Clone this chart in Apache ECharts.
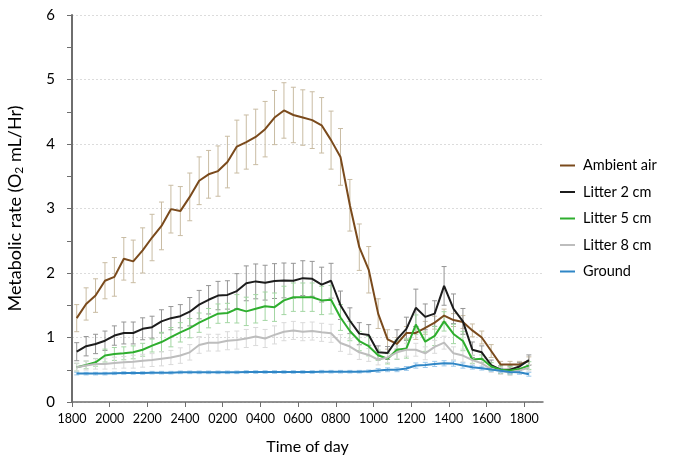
<!DOCTYPE html>
<html>
<head>
<meta charset="utf-8">
<script src="https://cdn.jsdelivr.net/npm/echarts@6/dist/echarts.min.js"></script>
<style>
html,body{margin:0;padding:0;background:#fff;}
#chart{width:676px;height:457px;}
</style>
</head>
<body>
<div id="chart"></div>
<script>
// Hours after 18:00 for each sample (every 30 min)
const timesHrs = [0.25,0.75,1.25,1.75,2.25,2.75,3.25,3.75,4.25,4.75,5.25,5.75,6.25,6.75,7.25,7.75,8.25,8.75,9.25,9.75,10.25,10.75,11.25,11.75,12.25,12.75,13.25,13.75,14.25,14.75,15.25,15.75,16.25,16.75,17.25,17.75,18.25,18.75,19.25,19.75,20.25,20.75,21.25,21.75,22.25,22.75,23.25,23.75,24.25];
const tickHrs = [0,2,4,6,8,10,12,14,16,18,20,22,24];
const tickLabels = ['1800','2000','2200','2400','0200','0400','0600','0800','1000','1200','1400','1600','1800'];

const seriesNames = ['Ambient air','Litter 2 cm','Litter 5 cm','Litter 8 cm','Ground'];

const ambientAir = [1.30,1.52,1.65,1.88,1.94,2.22,2.18,2.35,2.55,2.73,2.99,2.96,3.18,3.43,3.53,3.58,3.72,3.96,4.03,4.11,4.23,4.41,4.52,4.45,4.41,4.37,4.29,4.06,3.80,3.05,2.40,2.05,1.37,0.97,0.90,1.07,1.07,1.15,1.23,1.34,1.27,1.24,1.11,1.00,0.79,0.58,0.58,0.58,0.64];
const ambientAirErr = [0.21,0.25,0.26,0.28,0.30,0.33,0.33,0.35,0.36,0.37,0.37,0.38,0.37,0.37,0.37,0.39,0.40,0.41,0.42,0.43,0.43,0.42,0.43,0.43,0.43,0.44,0.43,0.45,0.44,0.40,0.36,0.36,0.23,0.15,0.10,0.10,0.10,0.10,0.10,0.10,0.10,0.10,0.10,0.10,0.10,0.05,0.05,0.05,0.06];

const litter2 = [0.78,0.865,0.90,0.95,1.03,1.07,1.07,1.135,1.16,1.25,1.30,1.33,1.40,1.51,1.585,1.65,1.66,1.72,1.84,1.87,1.85,1.875,1.885,1.88,1.92,1.91,1.82,1.88,1.50,1.26,1.06,1.04,0.77,0.76,0.97,1.135,1.46,1.32,1.37,1.80,1.445,1.25,0.81,0.77,0.57,0.50,0.50,0.55,0.65];
const litter2Err = [0.14,0.15,0.15,0.15,0.15,0.17,0.17,0.17,0.17,0.18,0.18,0.18,0.22,0.22,0.22,0.22,0.22,0.27,0.27,0.27,0.27,0.27,0.27,0.27,0.27,0.27,0.27,0.27,0.22,0.20,0.17,0.16,0.10,0.10,0.15,0.18,0.29,0.20,0.20,0.30,0.23,0.20,0.12,0.10,0.08,0.06,0.06,0.06,0.08];

const litter5 = [0.54,0.575,0.615,0.72,0.745,0.755,0.77,0.81,0.875,0.93,1.005,1.08,1.145,1.23,1.30,1.37,1.38,1.445,1.405,1.445,1.485,1.47,1.575,1.625,1.625,1.625,1.575,1.585,1.31,1.10,0.945,0.865,0.725,0.67,0.81,0.83,1.20,0.935,1.025,1.25,1.055,0.945,0.66,0.67,0.55,0.50,0.49,0.51,0.565];
const litter5Err = [0.06,0.06,0.06,0.10,0.10,0.10,0.10,0.10,0.10,0.15,0.15,0.15,0.15,0.15,0.15,0.15,0.15,0.22,0.22,0.22,0.22,0.22,0.22,0.22,0.22,0.22,0.22,0.22,0.20,0.15,0.15,0.15,0.08,0.08,0.15,0.15,0.15,0.15,0.15,0.15,0.15,0.15,0.06,0.06,0.06,0.06,0.06,0.06,0.06];

const litter8 = [0.54,0.565,0.59,0.59,0.605,0.615,0.625,0.64,0.65,0.67,0.69,0.72,0.77,0.885,0.92,0.92,0.95,0.96,0.985,1.015,0.985,1.04,1.09,1.11,1.09,1.10,1.08,1.065,0.915,0.86,0.77,0.73,0.655,0.69,0.77,0.81,0.81,0.755,0.855,0.92,0.755,0.72,0.65,0.60,0.51,0.48,0.46,0.49,0.53];
const litter8Err = [0.06,0.07,0.08,0.08,0.09,0.09,0.10,0.10,0.10,0.11,0.11,0.12,0.12,0.13,0.13,0.13,0.14,0.14,0.14,0.14,0.14,0.14,0.14,0.14,0.14,0.14,0.14,0.14,0.13,0.12,0.11,0.10,0.08,0.08,0.10,0.10,0.10,0.10,0.10,0.10,0.10,0.10,0.08,0.07,0.05,0.05,0.05,0.05,0.05];

const ground = [0.44,0.44,0.44,0.44,0.445,0.45,0.45,0.45,0.455,0.455,0.455,0.46,0.46,0.46,0.46,0.46,0.46,0.46,0.465,0.465,0.465,0.465,0.465,0.465,0.465,0.465,0.47,0.47,0.47,0.47,0.47,0.475,0.49,0.50,0.50,0.52,0.565,0.575,0.59,0.60,0.595,0.565,0.54,0.525,0.505,0.485,0.465,0.46,0.43];
const groundErr = [0.02,0.02,0.02,0.02,0.02,0.02,0.02,0.02,0.02,0.02,0.02,0.02,0.02,0.02,0.02,0.02,0.02,0.02,0.02,0.02,0.02,0.02,0.02,0.02,0.02,0.02,0.02,0.02,0.02,0.02,0.02,0.02,0.03,0.03,0.03,0.03,0.04,0.04,0.04,0.04,0.04,0.04,0.03,0.03,0.03,0.03,0.03,0.03,0.03];

const lineColors = ['#7a4a1c','#1c1c1c','#2eae2e','#bdbdbd','#2f86c6'];
const barColors = ['#c9bca3','#959595','#a3d6a3','#dadada','#9cc8ea'];
const means = [ambientAir, litter2, litter5, litter8, ground];
const errs = [ambientAirErr, litter2Err, litter5Err, litter8Err, groundErr];

const FONT = 'Lato, "Liberation Sans", sans-serif';

function errRender(color){
  return function(params, api){
    const lo = api.coord([api.value(0), api.value(1)]);
    const hi = api.coord([api.value(0), api.value(2)]);
    const w = 2.5;
    const st = {stroke: color, lineWidth: 1};
    return {type:'group', children:[
      {type:'line', shape:{x1:lo[0],y1:lo[1],x2:hi[0],y2:hi[1]}, style:st},
      {type:'line', shape:{x1:lo[0]-w,y1:lo[1],x2:lo[0]+w,y2:lo[1]}, style:st},
      {type:'line', shape:{x1:hi[0]-w,y1:hi[1],x2:hi[0]+w,y2:hi[1]}, style:st}
    ]};
  };
}

const series = [];
seriesNames.forEach((name, k) => {
  series.push({
    name: name + ' SE',
    type: 'custom',
    renderItem: errRender(barColors[k]),
    data: timesHrs.map((t, i) => [t, means[k][i] - errs[k][i], means[k][i] + errs[k][i]]),
    z: 1,
    silent: true,
    encode: {x: 0, y: [1, 2]}
  });
});
seriesNames.forEach((name, k) => {
  series.push({
    name: name,
    type: 'line',
    data: timesHrs.map((t, i) => [t, means[k][i]]),
    symbol: 'none',
    color: lineColors[k],
    lineStyle: {width: 2, color: lineColors[k]},
    z: 3 + k
  });
});

const chart = echarts.init(document.getElementById('chart'), null, {renderer: 'canvas'});
chart.setOption({
  animation: false,
  backgroundColor: '#fff',
  textStyle: {fontFamily: FONT},
  grid: {left: 72, right: 133, top: 15, bottom: 55, containLabel: false, outerBoundsMode: 'none'},
  legend: {
    data: seriesNames,
    orient: 'vertical',
    left: 555,
    top: 153,
    icon: 'rect',
    itemWidth: 15,
    itemHeight: 2,
    itemGap: 11.5,
    textStyle: {fontFamily: FONT, fontSize: 14.5, color: '#000', padding: [0,0,0,3]}
  },
  xAxis: {
    type: 'value',
    min: 0,
    max: 25,
    interval: 2,
    name: 'Time of day',
    nameLocation: 'middle',
    nameGap: 37,
    nameTextStyle: {fontFamily: FONT, fontSize: 16, color: '#000'},
    axisLine: {show: true, onZero: false, lineStyle: {color: '#6e6e6e', width: 1.5}},
    axisTick: {show: true, inside: false, length: 5, customValues: tickHrs, lineStyle: {color: '#6e6e6e'}},
    axisLabel: {
      customValues: tickHrs,
      fontFamily: FONT, fontSize: 12.5, color: '#000', margin: 10,
      formatter: function(v){ const i = tickHrs.indexOf(v); return i >= 0 ? tickLabels[i] : ''; }
    },
    splitLine: {show: false}
  },
  yAxis: {
    type: 'value',
    min: 0,
    max: 6,
    interval: 1,
    name: 'Metabolic rate (O{sub|2} mL/Hr)',
    nameLocation: 'middle',
    nameGap: 47,
    nameRotate: 90,
    nameTextStyle: {
      fontFamily: FONT, fontSize: 18, color: '#000',
      rich: {sub: {fontFamily: FONT, fontSize: 12, color: '#000', padding: [8,0,0,0]}}
    },
    axisLine: {show: true, lineStyle: {color: '#6e6e6e', width: 2}},
    axisTick: {show: true, inside: false, length: 5, lineStyle: {color: '#6e6e6e'}},
    minorTick: {show: true, splitNumber: 2, length: 5, lineStyle: {color: '#6e6e6e'}},
    axisLabel: {fontFamily: FONT, fontSize: 15, color: '#000', margin: 17},
    splitLine: {show: true, lineStyle: {color: '#dcdcdc', type: [2,2], width: 1}}
  },
  series: series
});
</script>
</body>
</html>
